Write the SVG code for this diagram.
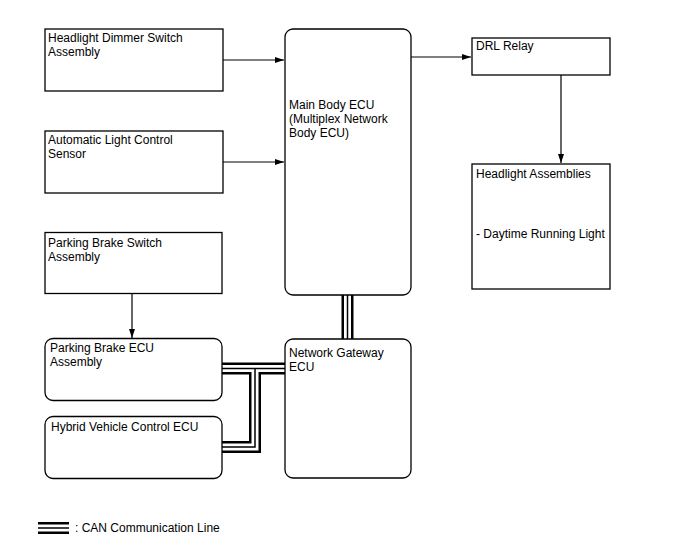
<svg xmlns="http://www.w3.org/2000/svg" width="688" height="560" viewBox="0 0 688 560">
<defs>
<marker id="arr" markerWidth="10" markerHeight="8" refX="9" refY="4" orient="auto" markerUnits="userSpaceOnUse">
<path d="M0,1 L9,4 L0,7 Z" fill="#000"/>
</marker>
<style>
.box{fill:#fff;stroke:#000;stroke-width:1.3}
.t{font-family:"Liberation Sans",Arial,sans-serif;font-size:12px;fill:#000}
.ln{fill:none;stroke:#000;stroke-width:1.2}
.c1{fill:none;stroke:#000;stroke-width:12}
.c2{fill:none;stroke:#fff;stroke-width:7}
.c3{fill:none;stroke:#000;stroke-width:1.5}
</style>
</defs>
<rect width="688" height="560" fill="#fff"/>
<g id="connectors">
<path class="ln" d="M223,60 H284" marker-end="url(#arr)"/>
<path class="ln" d="M223,162 H284" marker-end="url(#arr)"/>
<path class="ln" d="M411,57 H471" marker-end="url(#arr)"/>
<path class="ln" d="M561,75 V163" marker-end="url(#arr)"/>
<path class="ln" d="M132,293 V338" marker-end="url(#arr)"/>
<g id="can">
<path class="c1" d="M347.5,295 V339"/>
<path class="c1" d="M222,368.5 H285"/>
<path class="c1" d="M255,368.5 V447 H222"/>
<path class="c2" d="M347.5,295 V339"/>
<path class="c2" d="M222,368.5 H285"/>
<path class="c2" d="M255,368.5 V447 H222"/>
<path class="c3" d="M347.5,295 V339"/>
<path class="c3" d="M222,368.5 H285"/>
<path class="c3" d="M255,368.5 V447 H222"/>
</g>
</g>
<g id="n-dimmer"><rect class="box" x="45" y="29" width="178" height="62"/><text class="t" x="48" y="42">Headlight Dimmer Switch</text><text class="t" x="48" y="56">Assembly</text></g>
<g id="n-alc"><rect class="box" x="45" y="131" width="178" height="62"/><text class="t" x="48" y="144">Automatic Light Control</text><text class="t" x="48" y="158">Sensor</text></g>
<g id="n-pbs"><rect class="box" x="45" y="232.5" width="177" height="61"/><text class="t" x="48" y="247">Parking Brake Switch</text><text class="t" x="48" y="261">Assembly</text></g>
<g id="n-pbecu"><rect class="box" x="45" y="338.5" width="177" height="62" rx="8"/><text class="t" x="50" y="352">Parking Brake ECU</text><text class="t" x="50" y="366">Assembly</text></g>
<g id="n-hv"><rect class="box" x="45" y="416.5" width="177" height="62" rx="8"/><text class="t" x="51" y="431">Hybrid Vehicle Control ECU</text></g>
<g id="n-main"><rect class="box" x="285" y="29" width="126" height="266" rx="8"/><text class="t" x="289" y="109">Main Body ECU</text><text class="t" x="289" y="123">(Multiplex Network</text><text class="t" x="289" y="137">Body ECU)</text></g>
<g id="n-gw"><rect class="box" x="285" y="339" width="126" height="139" rx="8"/><text class="t" x="289" y="357">Network Gateway</text><text class="t" x="289" y="371">ECU</text></g>
<g id="n-drl"><rect class="box" x="472" y="38" width="138" height="37"/><text class="t" x="476" y="50">DRL Relay</text></g>
<g id="n-hla"><rect class="box" x="472" y="164" width="138" height="125"/><text class="t" x="476" y="178">Headlight Assemblies</text><text class="t" x="476" y="238">- Daytime Running Light</text></g>
<g id="legend">
<path class="c1" d="M38,528 H69"/>
<path class="c2" d="M38,528 H69"/>
<path class="c3" d="M38,528 H69"/>
<text class="t" x="75" y="532">: CAN Communication Line</text>
</g>
</svg>
